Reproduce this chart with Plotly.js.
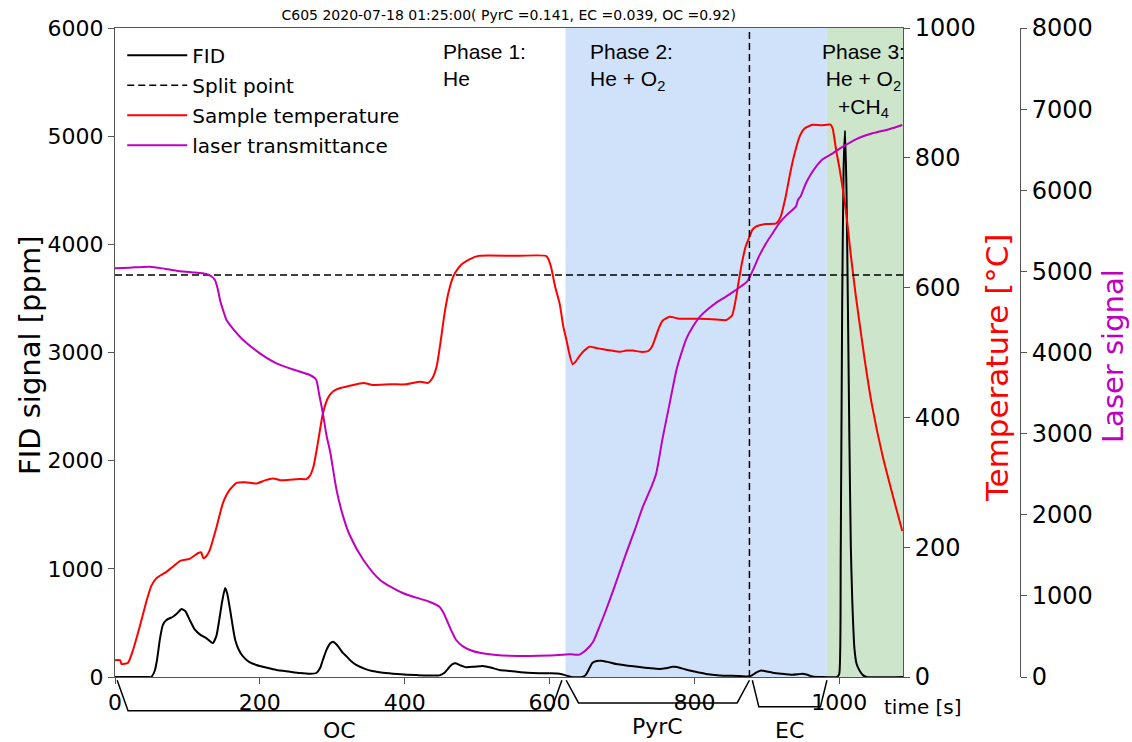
<!DOCTYPE html>
<html>
<head>
<meta charset="utf-8">
<script src="https://cdn.plot.ly/plotly-3.0.1.min.js"></script>
<style>html,body{margin:0;padding:0;background:#fff;}#chart{width:1132px;height:742px;}</style>
</head>
<body>
<div id="chart"></div>
<script>
// ---- data (time in s) ----
const fidTime = [0,45,50,55,58,62,66,71,80,86,92,97,103,110,118,126,135,140,144,148,152,155,159,163,166,171,177,185,195,210,223,240,255,270,278,283,287,292,297,301,306,315,320,327,333,345,355,370,390,416,448,455,462,466,470,476,485,496,508,520,531,545,560,577,600,614,625,630,645,650,655,659,665,671,680,692,708,724,740,752,760,770,776,788,800,816,835,862,873,878,885,892,900,908,920,935,943,949,956,963,975,997,1000,1002,1004,1006,1008,1010,1012,1014,1016,1018,1021,1024,1028,1033,1038,1088];
const fidValues = [0,0,0,60,157,350,480,527,557,590,628,610,530,440,390,360,314,380,530,700,822,770,619,450,342,250,188,140,111,85,65,50,37,30,37,80,157,250,310,327,300,220,188,140,111,75,55,40,28,18,15,40,95,120,127,110,90,95,102,85,65,55,45,37,34,30,10,0,0,20,80,130,148,151,140,120,105,92,80,74,80,95,92,69,50,28,15,10,5,10,40,60,50,40,30,20,25,30,20,5,0,0,30,1100,3400,4700,5050,4500,3400,2200,1200,700,260,120,60,15,0,0];

const tempTime = [0,7,9,18,25,34,44,50,57,71,80,90,103,115,119,122,126,131,140,149,158,168,180,195,207,218,230,241,255,264,269,274,280,287,294,301,310,325,343,356,380,402,421,432,438,444,450,455,461,467,474,480,490,503,549,595,598,602,608,614,619,623,628,632,636,641,648,655,664,674,685,697,706,715,726,736,741,745,751,756,766,779,807,830,844,852,857,862,866,871,876,880,885,890,899,913,919,926,932,938,945,952,963,975,988,991,993,996,1000,1009,1016,1023,1035,1045,1060,1075,1087];
const tempValues = [26,26,20,22,42,77,119,140,152,162,170,179,182,191,192,183,186,196,230,268,288,299,300,298,303,306,303,304,305,305,310,324,360,406,430,440,445,449,453,450,451,451,455,453,460,478,520,560,595,617,630,637,644,649,649,649,645,632,600,575,540,521,495,482,486,494,503,509,507,505,503,501,503,503,501,502,508,519,538,549,555,552,552,551,550,557,581,615,640,664,678,689,694,696,698,699,709,740,775,805,832,845,851,850,851,845,832,810,786,720,650,586,490,420,340,275,225];

const laserTime = [0,20,48,70,85,105,126,133,138,142,145,150,154,165,177,200,223,251,269,275,278,282,287,292,297,306,315,324,343,366,398,434,448,453,458,465,471,480,490,505,526,572,600,628,641,650,660,668,678,690,706,718,729,740,747,756,766,775,782,789,798,807,818,830,842,853,865,873,880,890,899,908,917,928,940,943,947,954,961,968,977,991,1005,1023,1046,1069,1087];
const laserValues = [5038,5045,5058,5030,5009,4990,4968,4940,4894,4780,4647,4500,4401,4270,4154,3990,3867,3776,3723,3690,3661,3480,3251,2980,2780,2300,1980,1750,1442,1196,1032,928,867,800,703,560,456,380,333,295,271,259,265,280,276,330,431,600,826,1120,1530,1820,2103,2330,2499,2939,3379,3776,3990,4172,4320,4436,4530,4612,4680,4745,4820,4877,5000,5200,5346,5470,5593,5700,5798,5880,5930,6086,6200,6291,6381,6455,6537,6628,6702,6752,6804];

const splitTime = [0, 1088];
const splitLaser = [4955, 4955];
const splitX = 876;

const phase2Range = [622, 983];
const phase3Range = [983, 1088];

const ocRange = [3, 617];
const pyrcRange = [623, 876];
const ecRange = [880, 983];

const seriesNames = ['FID', 'Split point', 'Sample temperature', 'laser transmittance'];
const titleText = 'C605 2020-07-18 01:25:00( PyrC =0.141, EC =0.039, OC =0.92)';

// ---- traces ----
const traces = [
  {x: fidTime, y: fidValues, name: seriesNames[0], type: 'scatter', mode: 'lines',
   line: {color: '#000000', width: 2, shape: 'spline', smoothing: 0.5}, yaxis: 'y', legendgroup: 'a'},
  {x: splitTime, y: splitLaser, name: seriesNames[1], type: 'scatter', mode: 'lines',
   line: {color: '#000000', width: 1.5, dash: '7px,4px'}, yaxis: 'y3', legendgroup: 'b'},
  {x: tempTime, y: tempValues, name: seriesNames[2], type: 'scatter', mode: 'lines',
   line: {color: '#ff0000', width: 2, shape: 'spline', smoothing: 0.5}, yaxis: 'y2', legendgroup: 'c'},
  {x: laserTime, y: laserValues, name: seriesNames[3], type: 'scatter', mode: 'lines',
   line: {color: '#bf00bf', width: 2, shape: 'spline', smoothing: 0.7}, yaxis: 'y3', legendgroup: 'd'}
];

const axisColor = '#555555';
const tickFontL = {family: 'DejaVu Sans', size: 22, color: '#000'};
const tickFontR = {family: 'DejaVu Sans', size: 24, color: '#000'};

function bracket(r, depth, inset) {
  const yTop = -0.005, yBot = -depth;
  return {type: 'path', xref: 'x', yref: 'paper',
    path: `M ${r[0]},${yTop} L ${r[0]+inset},${yBot} L ${r[1]-inset},${yBot} L ${r[1]},${yTop}`,
    line: {color: '#000', width: 1.5}, layer: 'above'};
}

const shapes = [
  {type: 'rect', xref: 'x', yref: 'paper', x0: phase2Range[0], x1: phase2Range[1], y0: 0, y1: 1,
   fillcolor: '#cfe2fa', line: {width: 0}, layer: 'below'},
  {type: 'rect', xref: 'x', yref: 'paper', x0: phase3Range[0], x1: phase3Range[1], y0: 0, y1: 1,
   fillcolor: '#cde5cb', line: {width: 0}, layer: 'below'},
  {type: 'line', xref: 'x', yref: 'paper', x0: splitX, x1: splitX, y0: 0, y1: 1,
   line: {color: '#000', width: 1.5, dash: '7px,4px'}, layer: 'above'},
  bracket(ocRange, 0.052, 15),
  bracket(pyrcRange, 0.04, 17),
  bracket(ecRange, 0.046, 9)
];

const txtFont = {family: 'Liberation Sans, Arial, sans-serif', size: 21, color: '#000'};
const annotations = [
  {xref: 'x', yref: 'paper', x: 450, y: 0.985, xanchor: 'left', yanchor: 'top', align: 'left',
   showarrow: false, text: 'Phase 1:<br>He', font: txtFont},
  {xref: 'x', yref: 'paper', x: 653, y: 0.985, xanchor: 'left', yanchor: 'top', align: 'left',
   showarrow: false, text: 'Phase 2:<br>He + O<sub>2</sub>', font: txtFont},
  {xref: 'x', yref: 'paper', x: 1034, y: 0.985, xanchor: 'center', yanchor: 'top', align: 'center',
   showarrow: false, text: 'Phase 3:<br>He + O<sub>2</sub><br>+CH<sub>4</sub>', font: txtFont},
  {xref: 'x', yref: 'paper', x: (ocRange[0]+ocRange[1])/2, y: -0.082, yanchor: 'middle', showarrow: false,
   text: 'OC', font: {family: 'DejaVu Sans', size: 22, color: '#000'}},
  {xref: 'x', yref: 'paper', x: (pyrcRange[0]+pyrcRange[1])/2, y: -0.077, yanchor: 'middle', showarrow: false,
   text: 'PyrC', font: {family: 'DejaVu Sans', size: 22, color: '#000'}},
  {xref: 'x', yref: 'paper', x: (ecRange[0]+ecRange[1])/2, y: -0.082, yanchor: 'middle', showarrow: false,
   text: 'EC', font: {family: 'DejaVu Sans', size: 22, color: '#000'}},
  {xref: 'paper', yref: 'paper', x: 0.8475, y: -0.046, xanchor: 'left', yanchor: 'middle', showarrow: false,
   text: 'time [s]', font: {family: 'DejaVu Sans', size: 20, color: '#000'}},
  {xref: 'paper', yref: 'paper', x: -0.094, y: 0.496, xanchor: 'center', yanchor: 'middle', showarrow: false,
   textangle: -90, text: 'FID signal [ppm]', font: {family: 'DejaVu Sans', size: 29, color: '#000'}},
  {xref: 'paper', yref: 'paper', x: 0.9746, y: 0.476, xanchor: 'center', yanchor: 'middle', showarrow: false,
   textangle: -90, text: 'Temperature [°C]', font: {family: 'DejaVu Sans', size: 31, color: '#ff0000'}},
  {xref: 'paper', yref: 'paper', x: 1.1028, y: 0.4946, xanchor: 'center', yanchor: 'middle', showarrow: false,
   textangle: -90, text: 'Laser signal', font: {family: 'DejaVu Sans', size: 29, color: '#bf00bf'}}
];

const layout = {
  width: 1132, height: 742,
  margin: {l: 115, r: 112, t: 28, b: 65},
  paper_bgcolor: '#ffffff', plot_bgcolor: '#ffffff',
  title: {text: titleText, font: {family: 'DejaVu Sans', size: 14, color: '#000'},
          x: 0.435, xref: 'paper', xanchor: 'center', y: 0.98, yref: 'container', yanchor: 'middle'},
  showlegend: true,
  legend: {x: 0.008, y: 0.988, xanchor: 'left', yanchor: 'top', bgcolor: 'rgba(255,255,255,0)',
           font: {family: 'DejaVu Sans', size: 20, color: '#000'}, tracegroupgap: 1, traceorder: 'grouped',
           itemwidth: 60},
  xaxis: {domain: [0, 0.8707], range: [0, 1088], showgrid: false, zeroline: false,
          showline: true, linecolor: axisColor, linewidth: 1, mirror: true,
          ticks: 'outside', ticklen: 6, tickcolor: axisColor, tickvals: [0,200,400,600,800,1000],
          tickfont: tickFontL},
  yaxis: {range: [0, 6000], showgrid: false, zeroline: false, showline: true, linecolor: axisColor,
          linewidth: 1, mirror: true, ticks: 'outside', ticklen: 6, tickcolor: axisColor,
          tickvals: [0,1000,2000,3000,4000,5000,6000], tickfont: tickFontL},
  yaxis2: {range: [0, 1000], overlaying: 'y', side: 'right', anchor: 'x', showgrid: false, zeroline: false,
           showline: true, linecolor: axisColor, linewidth: 1, ticks: 'outside', ticklen: 6, tickcolor: axisColor,
           tickvals: [0,200,400,600,800,1000], tickfont: tickFontR},
  yaxis3: {range: [0, 8000], overlaying: 'y', side: 'right', anchor: 'free', position: 1.0,
           showgrid: false, zeroline: false, showline: true, linecolor: axisColor, linewidth: 1,
           ticks: 'outside', ticklen: 6, tickcolor: axisColor,
           tickvals: [0,1000,2000,3000,4000,5000,6000,7000,8000], tickfont: tickFontR},
  shapes: shapes,
  annotations: annotations
};

Plotly.newPlot('chart', traces, layout, {displayModeBar: false, staticPlot: true});
</script>
</body>
</html>
